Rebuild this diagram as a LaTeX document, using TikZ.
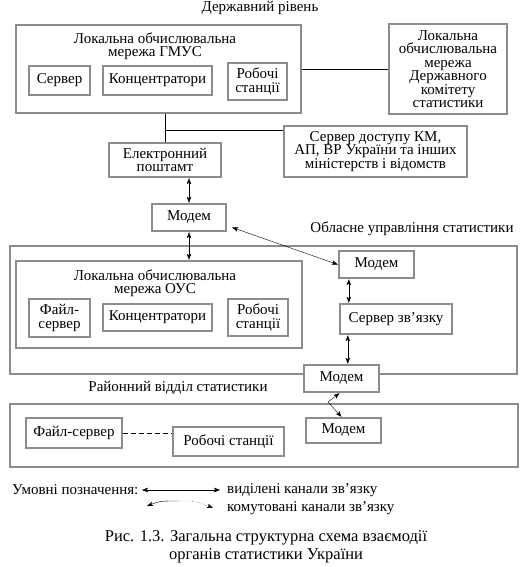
\documentclass[tikz,border=0pt]{standalone}
\usepackage{fontspec}
\setmainfont{Liberation Serif}
\usetikzlibrary{arrows.meta}
\usetikzlibrary{positioning}
\usetikzlibrary{calc}

\begin{document}
\begin{tikzpicture}[x=1pt,y=-1pt,>={Stealth[length=6pt,width=4.5pt,inset=1.5pt]},thin,
  every node/.style={font=\fontsize{15}{13.5}\selectfont,inner sep=1pt},
  unit/.style={draw=black!45,line width=2.4pt,fill=white,align=center},
  area/.style={draw=black!45,line width=2.4pt},
  link/.style={<->}]
  \useasboundingbox (0,0) rectangle (520,567);

  \node[area,minimum width=285pt,minimum height=88pt] (gmus) at (158.5,69) {};
  \node[area,minimum width=507pt,minimum height=128pt] (obl) at (263.5,310) {};
  \node[area,minimum width=286pt,minimum height=87pt] (ous) at (159,304.5) {};
  \node[area,minimum width=508pt,minimum height=63pt] (ray) at (264,435.5) {};

  \node[] (st) at (260,8) {Державний рівень};
  \node[align=center] (gmusl) at (155,46) {Локальна обчислювальна\\мережа ГМУС};
  \node[] (oblt) at (412,229) {Обласне управління статистики};
  \node[align=center] (ousl) at (155,283) {Локальна обчислювальна\\мережа ОУС};
  \node[] (rayt) at (178,388) {Районний відділ статистики};

  \node[unit,minimum width=61pt,minimum height=29pt] (srv1) at (59.5,80.5) {Сервер};
  \node[unit,minimum width=109pt,minimum height=29pt] (hub1) at (157.5,80.5) {Концентратори};
  \node[unit,minimum width=59pt,minimum height=37pt] (ws1) at (257.5,81.5) {Робочі\\станції};
  \node[unit,minimum width=118pt,minimum height=90pt] (dks) at (448,69) {Локальна\\обчислювальна\\мережа\\Державного\\комітету\\статистики};

  \draw (gmus.east) -- (dks.west);
  \coordinate (gs) at (gmus.south -| 165,0);
  \coordinate (br) at ($(gs)+(0,16)$);

  \node[unit,minimum width=183pt,minimum height=51pt] (acc) at (375.5,151.5) {Сервер доступу КМ,\\АП, ВР України та інших\\міністерств і відомств};
  \draw (br) -- (br -| acc.west);
  \node[unit,minimum width=112pt,minimum height=34pt] (email) at (165,160) {Електронний\\поштамт};
  \draw (gs) -- (email.north);

  \node[unit,minimum width=74pt,minimum height=27pt] (mod1) at (189,217.5) {Модем};
  \draw[link] (email.south -| mod1.north) -- (mod1.north);
  \draw[link] (mod1.south) -- (mod1.south |- ous.north);

  \node[unit,minimum width=61pt,minimum height=38pt] (fs1) at (59.5,318) {Файл-\\сервер};
  \node[unit,minimum width=109pt,minimum height=27pt] (hub2) at (157.5,317.5) {Концентратори};
  \node[unit,minimum width=60pt,minimum height=37pt] (ws2) at (258,317.5) {Робочі\\станції};

  \node[unit,minimum width=75pt,minimum height=27pt] (mod2) at (376.5,264.5) {Модем};
  \node[unit,minimum width=112pt,minimum height=30pt] (srv2) at (396,319) {Сервер зв’язку};
  \node[unit,minimum width=75pt,minimum height=27pt] (mod3) at (341.5,378.5) {Модем};
  \node[unit,minimum width=75pt,minimum height=25pt] (mod4) at (343.5,430.5) {Модем};

  \draw[link] ($(mod1.east)+(5,10)$) -- (mod2.west);
  \coordinate (m2s) at ($(mod2.south west)+(11,0)$);
  \draw[link] (m2s) -- (m2s |- srv2.north);
  \coordinate (s2s) at ($(srv2.south west)+(9,0)$);
  \draw[link] (s2s) -- (s2s |- mod3.north);
  \coordinate (kink) at (328,402);
  \draw[link] ($(mod3.south)+(-2,0)$) -- (kink) -- ($(mod4.north)+(-2,0)$);

  \node[unit,minimum width=96pt,minimum height=30pt] (fs2) at (74,433) {Файл-сервер};
  \node[unit,minimum width=111pt,minimum height=29pt] (ws3) at (228.5,441.5) {Робочі станції};
  \draw[dash pattern=on 5pt off 3pt] (fs2.east) -- (fs2.east -| ws3.west);

  \node[anchor=west] (key) at (11,490) {Умовні позначення:};
  \coordinate (k1a) at (142,490);
  \coordinate (k1b) at (220,490);
  \draw[link] (k1a) -- (k1b);
  \node[] (k1t) [right=6pt of k1b,anchor=west] {виділені канали зв’язку};
  \coordinate (k2a) at (147,506);
  \coordinate (k2m) at (178,501);
  \coordinate (k2b) at (213,508);
  \draw[<-] (k2a) .. controls (160,501) .. (k2m);
  \draw[->,dotted] (k2m) .. controls (196,501) .. (k2b);
  \node[] (k2t) [right=13pt of k2b,anchor=west] {комутовані канали зв’язку};

  \node[align=center,font=\fontsize{16.5}{17.5}\selectfont] (cap) at (266,547) {Рис. 1.3. Загальна структурна схема взаємодії\\органів статистики України};
\end{tikzpicture}
\end{document}
